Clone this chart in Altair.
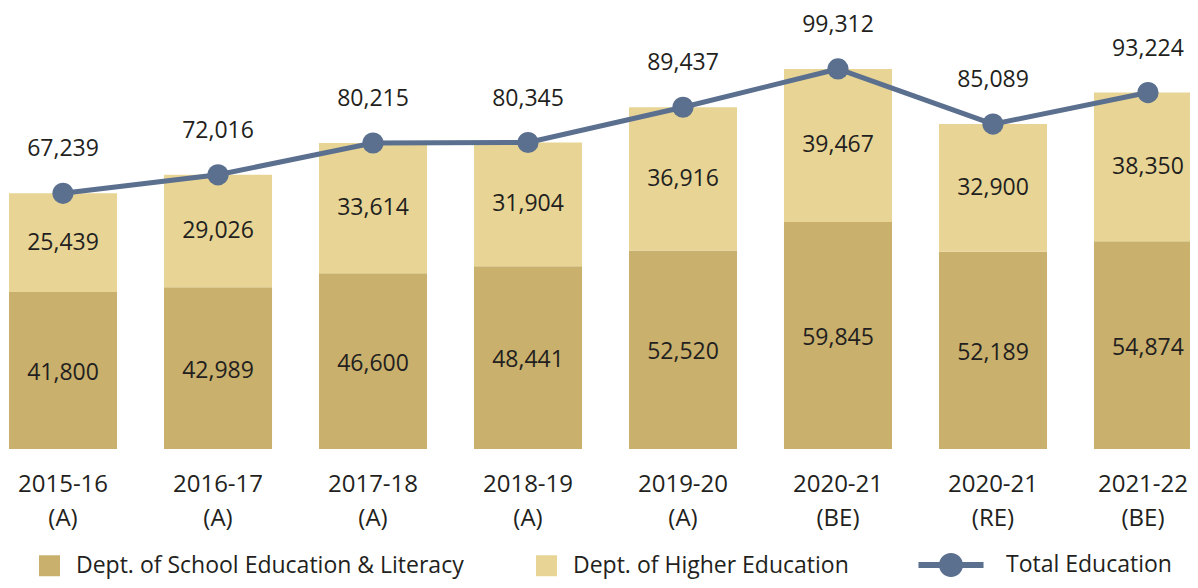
import altair as alt
import pandas as pd

categories = ["2015-16 (A)", "2016-17 (A)", "2017-18 (A)", "2018-19 (A)",
              "2019-20 (A)", "2020-21 (BE)", "2020-21 (RE)", "2021-22 (BE)"]
school = [41800, 42989, 46600, 48441, 52520, 59845, 52189, 54874]
higher = [25439, 29026, 33614, 31904, 36916, 39467, 32900, 38350]
total = [67239, 72016, 80215, 80345, 89437, 99312, 85089, 93224]
series_names = ["Dept. of School Education & Literacy", "Dept. of Higher Education"]
total_name = "Total Education"

C_SCHOOL = "#C9B06C"
C_HIGHER = "#E8D595"
C_LINE = "#5B6F8F"
C_TEXT = "#231F20"
FONT = "Open Sans"

rows = []
for i, c in enumerate(categories):
    rows.append({"cat": c, "series": series_names[0], "value": school[i], "order": 0})
    rows.append({"cat": c, "series": series_names[1], "value": higher[i], "order": 1})
bars_df = pd.DataFrame(rows)
tot_df = pd.DataFrame({"cat": categories, "total": total, "name": [total_name] * len(categories)})

xscale = alt.Scale(paddingInner=0.303, paddingOuter=0, range=[1, 1194])
x = alt.X("cat:N", sort=categories, title=None, scale=xscale,
          axis=alt.Axis(labelAngle=0, domain=False, ticks=False, grid=False,
                        labelExpr="split(datum.value, ' ')",
                        labelFont=FONT, labelFontSize=24, labelColor=C_TEXT,
                        labelLineHeight=34, labelPadding=23, labelBaseline="top",
                        labelOffset={"condition": {"test": "datum.index === 1", "value": -5},
                                     "value": 0}))
yscale = alt.Scale(domain=[1290, 115037], nice=False, zero=False)

bars = alt.Chart(bars_df).mark_bar(clip=True).encode(
    x=x,
    y=alt.Y("value:Q", stack="zero", scale=yscale, axis=None),
    color=alt.Color("series:N",
                    scale=alt.Scale(domain=series_names, range=[C_SCHOOL, C_HIGHER]),
                    legend=alt.Legend(orient="none", direction="horizontal", legendX=30, legendY=546,
                                      title=None, symbolType="square", symbolSize=441,
                                      symbolStrokeWidth=0, labelFont=FONT, labelFontSize=23,
                                      labelColor=C_TEXT, labelOffset=15, columnPadding=71,
                                      labelLimit=0, padding=0)),
    order=alt.Order("order:Q"),
)

seg_labels = alt.Chart(bars_df).transform_stack(
    stack="value", as_=["v0", "v1"], groupby=["cat"], sort=[alt.SortField("order")]
).transform_calculate(
    mid="(datum.v0 + datum.v1) / 2"
).mark_text(font=FONT, fontSize=23, color=C_TEXT, baseline="middle").encode(
    x=alt.X("cat:N", sort=categories, scale=xscale),
    y=alt.Y("mid:Q", scale=yscale),
    text=alt.Text("value:Q", format=",d"),
)

line = alt.Chart(tot_df).mark_line(color=C_LINE, strokeWidth=5).encode(
    x=alt.X("cat:N", sort=categories, scale=xscale),
    y=alt.Y("total:Q", scale=yscale),
)

legend_path = ("M-2.71,-0.25H2.71V0.25H-2.71Z "
               "M1,0A1,1 0 1,1 -1,0A1,1 0 1,1 1,0Z")
points = alt.Chart(tot_df).mark_point(filled=True, size=450, opacity=1).encode(
    x=alt.X("cat:N", sort=categories, scale=xscale),
    y=alt.Y("total:Q", scale=yscale),
    fill=alt.Fill("name:N", scale=alt.Scale(domain=[total_name], range=[C_LINE]),
                  legend=alt.Legend(orient="none", legendX=931, legendY=545, title=None,
                                    symbolType=legend_path, symbolSize=576, symbolStrokeWidth=0,
                                    labelFont=FONT, labelFontSize=23, labelColor=C_TEXT,
                                    labelOffset=43, labelLimit=0, padding=0)),
)

tot_labels = alt.Chart(tot_df).mark_text(font=FONT, fontSize=23, color=C_TEXT,
                                          baseline="middle", dy=-44).encode(
    x=alt.X("cat:N", sort=categories, scale=xscale),
    y=alt.Y("total:Q", scale=yscale),
    text=alt.Text("total:Q", format=",d"),
)

chart = alt.layer(bars, seg_labels, line, points, tot_labels).resolve_scale(
    color="independent", fill="independent"
).properties(
    width=1182, height=441,
    padding={"left": 0, "top": 0, "right": 0, "bottom": 131},
    autosize=alt.AutoSizeParams(type="none"),
).configure_view(stroke=None)

chart.save("out.html", embed_options={"renderer": "svg", "actions": False})
